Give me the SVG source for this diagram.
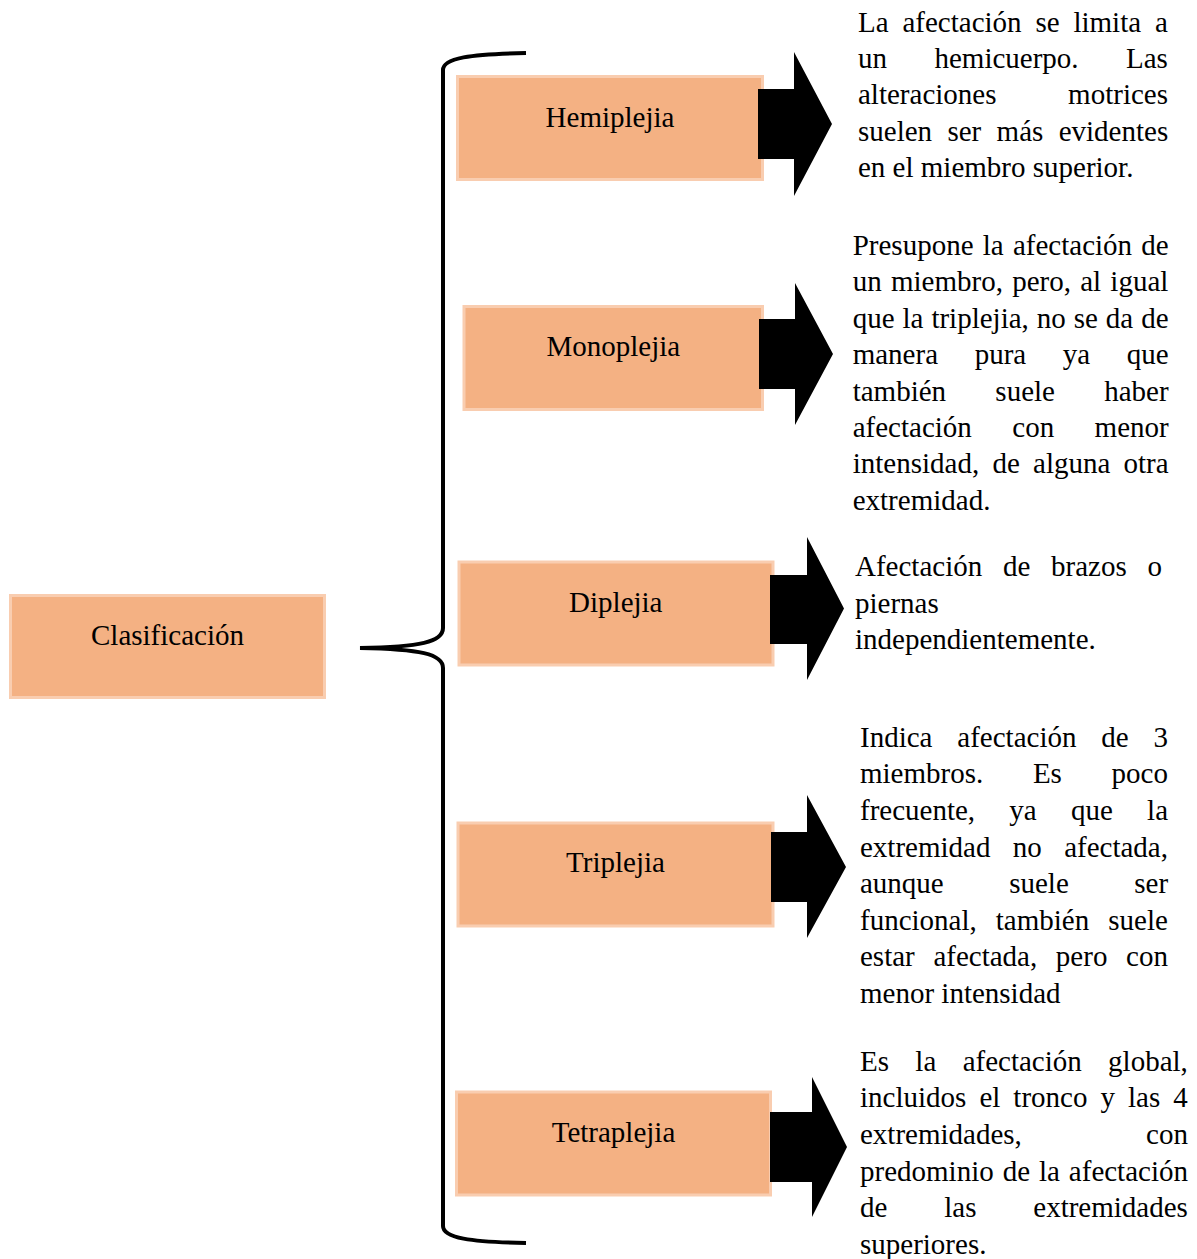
<svg xmlns="http://www.w3.org/2000/svg" width="1197" height="1259" viewBox="0 0 1197 1259">
<style>
.box{fill:#F4B183;stroke:#F9CDB0;stroke-width:3}
.lbl{font-family:"Liberation Serif","Times New Roman",serif;font-size:29px;fill:#000;text-anchor:middle}
.d{font-family:"Liberation Serif","Times New Roman",serif;font-size:29px;fill:#000}
.arr{fill:#000}
.brace{fill:none;stroke:#000;stroke-width:4;stroke-linecap:butt}
</style>
<rect width="1197" height="1259" fill="#fff"/>
<g id="clasificacion">
<rect class="box" x="10.5" y="595.5" width="314" height="102"/>
<text class="lbl" x="167.5" y="645">Clasificación</text>
</g>
<g id="hemiplejia">
<rect class="box" x="457.5" y="76.5" width="305" height="103"/>
<text class="lbl" x="610" y="126.5">Hemiplejia</text>
</g>
<g id="monoplejia">
<rect class="box" x="464" y="306.5" width="298.5" height="103"/>
<text class="lbl" x="613.3" y="356">Monoplejia</text>
</g>
<g id="diplejia">
<rect class="box" x="459" y="562" width="314" height="103"/>
<text class="lbl" x="615.8" y="611.5">Diplejia</text>
</g>
<g id="triplejia">
<rect class="box" x="458" y="823" width="315" height="103"/>
<text class="lbl" x="615.5" y="871.5">Triplejia</text>
</g>
<g id="tetraplejia">
<rect class="box" x="456.5" y="1092" width="314" height="103"/>
<text class="lbl" x="613.5" y="1141.5">Tetraplejia</text>
</g>
<g id="connectors">
<path class="brace" d="M526,53 C470,54 443,58 443,70 L443,628 C443,642 420,647 360,648 C420,649 443,654 443,668 L443,1226 C443,1238 470,1242 526,1243"/>
<polygon class="arr" points="758,89 794,89 794,52 832,124 794,196 794,159 758,159"/>
<polygon class="arr" points="759,319 795,319 795,283 833,354 795,425 795,389 759,389"/>
<polygon class="arr" points="770,575 807,575 807,537 844,608.5 807,680 807,644 770,644"/>
<polygon class="arr" points="771,832 807,832 807,795 846,867 807,938 807,902 771,902"/>
<polygon class="arr" points="770,1112 812,1112 812,1077 847,1147 812,1217 812,1182 770,1182"/>
</g>
<g id="desc-hemiplejia" class="d">
<text x="858" y="31.5" word-spacing="6.6">La afectación se limita a</text>
<text x="858" y="67.9" word-spacing="40.2">un hemicuerpo. Las</text>
<text x="858" y="104.3" word-spacing="64.4">alteraciones motrices</text>
<text x="858" y="140.7" word-spacing="8.1">suelen ser más evidentes</text>
<text x="858" y="177.1">en el miembro superior.</text>
</g>
<g id="desc-monoplejia" class="d">
<text x="852.7" y="255" word-spacing="2.0">Presupone la afectación de</text>
<text x="852.7" y="291.4" word-spacing="2.0">un miembro, pero, al igual</text>
<text x="852.7" y="327.8" word-spacing="0.7">que la triplejia, no se da de</text>
<text x="852.7" y="364.2" word-spacing="29.4">manera pura ya que</text>
<text x="852.7" y="400.6" word-spacing="42">también suele haber</text>
<text x="852.7" y="437" word-spacing="33.2">afectación con menor</text>
<text x="852.7" y="473.4" word-spacing="6">intensidad, de alguna otra</text>
<text x="852.7" y="509.8">extremidad.</text>
</g>
<g id="desc-diplejia" class="d">
<text x="855" y="576" word-spacing="13.5">Afectación de brazos o</text>
<text x="855" y="612.6">piernas</text>
<text x="855" y="649.2">independientemente.</text>
</g>
<g id="desc-triplejia" class="d">
<text x="860" y="746.7" word-spacing="17.6">Indica afectación de 3</text>
<text x="860" y="783.3" word-spacing="42.4">miembros. Es poco</text>
<text x="860" y="819.9" word-spacing="27">frecuente, ya que la</text>
<text x="860" y="856.5" word-spacing="15.1">extremidad no afectada,</text>
<text x="860" y="893.1" word-spacing="58.2">aunque suele ser</text>
<text x="860" y="929.7" word-spacing="11.8">funcional, también suele</text>
<text x="860" y="966.3" word-spacing="11.4">estar afectada, pero con</text>
<text x="860" y="1002.9">menor intensidad</text>
</g>
<g id="desc-tetraplejia" class="d">
<text x="860" y="1070.8" word-spacing="19.1">Es la afectación global,</text>
<text x="860" y="1107.4" word-spacing="5.8">incluidos el tronco y las 4</text>
<text x="860" y="1144" word-spacing="117">extremidades, con</text>
<text x="860" y="1180.6" word-spacing="1.7">predominio de la afectación</text>
<text x="860" y="1217.2" word-spacing="49.6">de las extremidades</text>
<text x="860" y="1253.8">superiores.</text>
</g>
</svg>
